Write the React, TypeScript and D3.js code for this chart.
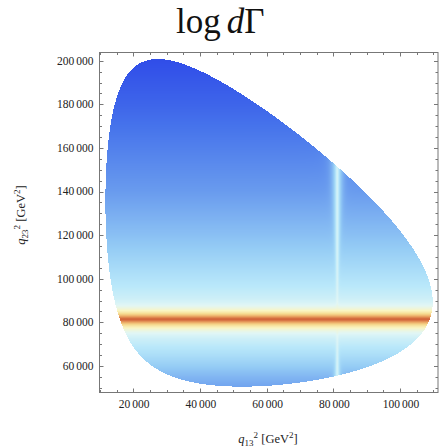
import React, { useEffect, useRef } from "react";
import * as d3 from "d3";

const W = 440;
const H = 448;
const FRAME = { left: 99.5, right: 438, top: 52.5, bottom: 392.5 };

// axis data
const xDomain = [9900, 111400];
const yDomain = [47800, 203800];
const xTicks = [20000, 40000, 60000, 80000, 100000];
const yTicks = [60000, 80000, 100000, 120000, 140000, 160000, 180000, 200000];
const xMinorTicks = d3.range(10000, 111000, 5000);
const yMinorTicks = d3.range(50000, 203000, 5000);

// Dalitz kinematics (parent mass, daughters 1,2,3) in GeV
const parentMass = [503.6];
const daughterMasses = [55.5, 172.2, 52.5];

// resonance bands: [centre, half width]
const bandY = [81400, 800];
const stripeX = [81200, 500];
const stripeLevel = [0.6];

// background colour level (0..1) versus q23^2
const profileY = [45000, 50000, 55000, 60000, 65000, 70000, 75000, 81400, 88000, 95000, 100000, 110000, 120000, 140000, 160000, 180000, 200000, 205000];
const profileT = [0.28, 0.32, 0.38, 0.45, 0.51, 0.56, 0.6, 0.62, 0.6, 0.56, 0.53, 0.47, 0.41, 0.3, 0.2, 0.1, 0.02, 0.0];

// colour map
const colorPos = [0, 0.15, 0.3, 0.45, 0.55, 0.63, 0.7, 0.78, 0.87, 1];
const colorHex = ["#2d48e8", "#4673eb", "#699bee", "#96cdf5", "#b9e8fa", "#e1f6f5", "#faf5c3", "#f6da90", "#eba864", "#d2643a"];

const FONT = "'Liberation Serif', 'Times New Roman', serif";

function splitLabel(v: number) {
  const hi = Math.floor(v / 1000);
  return [String(hi), "000"];
}

export default function App() {
  const imgRef = useRef<SVGImageElement>(null);
  const x = d3.scaleLinear().domain(xDomain).range([FRAME.left, FRAME.right]);
  const y = d3.scaleLinear().domain(yDomain).range([FRAME.bottom, FRAME.top]);
  const px0 = Math.ceil(FRAME.left);
  const px1 = Math.floor(FRAME.right);
  const py0 = Math.ceil(FRAME.top);
  const py1 = Math.floor(FRAME.bottom);

  useEffect(() => {
    const w = px1 - px0;
    const h = py1 - py0;
    const canvas = document.createElement("canvas");
    canvas.width = w;
    canvas.height = h;
    const ctx = canvas.getContext("2d");
    if (!ctx) return;
    const img = ctx.createImageData(w, h);
    const color = d3
      .scaleLinear<string>()
      .domain(colorPos)
      .range(colorHex)
      .interpolate(d3.interpolateRgb)
      .clamp(true);
    const LUT: d3.RGBColor[] = d3.range(1025).map((k) => d3.rgb(color(k / 1024)));
    const bg = d3.scaleLinear().domain(profileY).range(profileT).clamp(true);
    const M = parentMass[0];
    const [m1, m2, m3] = daughterMasses;
    const yMin = (m2 + m3) ** 2;
    const yMax = (M - m1) ** 2;
    const K = 25;
    const K1 = 10.9;
    for (let j = 0; j < h; j++) {
      const yv = y.invert(py0 + j + 0.5);
      if (yv < yMin || yv > yMax) continue;
      const sy = Math.sqrt(yv);
      const E3 = (yv - m2 * m2 + m3 * m3) / (2 * sy);
      const E1 = (M * M - yv - m1 * m1) / (2 * sy);
      const p3 = Math.sqrt(Math.max(0, E3 * E3 - m3 * m3));
      const p1 = Math.sqrt(Math.max(0, E1 * E1 - m1 * m1));
      const lo = (E3 + E1) ** 2 - (p3 + p1) ** 2;
      const hi = (E3 + E1) ** 2 - (p3 - p1) ** 2;
      const tb = bg(yv);
      const dyv = (yv - bandY[0]) / bandY[1];
      const tp = 1 - Math.log(1 + dyv * dyv) / K1 - ((yv - bandY[0]) / 60000) ** 2;
      for (let i = 0; i < w; i++) {
        const xv = x.invert(px0 + i + 0.5);
        if (xv < lo || xv > hi) continue;
        const dxv = (xv - stripeX[0]) / stripeX[1];
        const ts = stripeLevel[0] - Math.log(1 + dxv * dxv) / K1;
        const t = Math.log(Math.exp(K * tb) + Math.exp(K * tp) + Math.exp(K * ts)) / K;
        const c = LUT[Math.max(0, Math.min(1024, Math.round(t * 1024)))];
        const idx = (j * w + i) * 4;
        img.data[idx] = c.r;
        img.data[idx + 1] = c.g;
        img.data[idx + 2] = c.b;
        img.data[idx + 3] = 255;
      }
    }
    ctx.putImageData(img, 0, 0);
    if (imgRef.current) imgRef.current.setAttribute("href", canvas.toDataURL());
  }, []);

  const frameColor = "#777";
  const major = 4;
  const minor = 2.5;

  return (
    <div style={{ position: "absolute", left: 0, top: 0 }}>
      <svg width={W} height={H} viewBox={`0 0 ${W} ${H}`} style={{ display: "block", background: "#fff" }}>
        <image
          ref={imgRef}
          x={px0}
          y={py0}
          width={px1 - px0}
          height={py1 - py0}
          preserveAspectRatio="none"
          style={{ imageRendering: "pixelated" }}
        />
        {/* ticks */}
        <g stroke={frameColor} strokeWidth={1}>
          {xMinorTicks.map((v) => {
            const len = xTicks.includes(v) ? major : minor;
            const xx = Math.round(x(v)) + 0.5;
            return (
              <g key={"xm" + v}>
                <line x1={xx} x2={xx} y1={FRAME.bottom} y2={FRAME.bottom - len} />
                <line x1={xx} x2={xx} y1={FRAME.top} y2={FRAME.top + len} />
              </g>
            );
          })}
          {yMinorTicks.map((v) => {
            const len = yTicks.includes(v) ? major : minor;
            const yy = Math.round(y(v)) + 0.5;
            return (
              <g key={"ym" + v}>
                <line x1={FRAME.left} x2={FRAME.left + len} y1={yy} y2={yy} />
                <line x1={FRAME.right} x2={FRAME.right - len} y1={yy} y2={yy} />
              </g>
            );
          })}
          <rect
            x={FRAME.left}
            y={FRAME.top}
            width={FRAME.right - FRAME.left}
            height={FRAME.bottom - FRAME.top}
            fill="none"
          />
        </g>
        {/* tick labels */}
        <g fontFamily={FONT} fontSize={11.5} fill="#222">
          {yTicks.map((v) => {
            const [a, b] = splitLabel(v);
            return (
              <text key={"yl" + v} x={93.5} y={y(v) + 3.8} textAnchor="end">
                {a}
                <tspan dx={2}>{b}</tspan>
              </text>
            );
          })}
          {xTicks.map((v) => {
            const [a, b] = splitLabel(v);
            return (
              <text key={"xl" + v} x={x(v) + 1} y={408} textAnchor="middle">
                {a}
                <tspan dx={2}>{b}</tspan>
              </text>
            );
          })}
        </g>
        {/* axis labels */}
        <text x={268} y={443} textAnchor="middle" fontFamily={FONT} fontSize={12.5} fill="#222">
          <tspan fontStyle="italic">q</tspan>
          <tspan fontSize={9} dy={3}>13</tspan>
          <tspan fontSize={9} dy={-8}>2</tspan>
          <tspan dy={5}> [GeV</tspan>
          <tspan fontSize={9} dy={-5}>2</tspan>
          <tspan dy={5}>]</tspan>
        </text>
        <text
          transform="translate(25,215) rotate(-90)"
          textAnchor="middle"
          fontFamily={FONT}
          fontSize={12.5}
          fill="#222"
        >
          <tspan fontStyle="italic">q</tspan>
          <tspan fontSize={9} dy={3}>23</tspan>
          <tspan fontSize={9} dy={-8}>2</tspan>
          <tspan dy={5}> [GeV</tspan>
          <tspan fontSize={9} dy={-5}>2</tspan>
          <tspan dy={5}>]</tspan>
        </text>
        {/* title */}
        <text x={176} y={33} fontFamily={FONT} fontSize={35} fill="#111">
          log
          <tspan dx={6} fontStyle="italic">d</tspan>
          <tspan>Γ</tspan>
        </text>
      </svg>
    </div>
  );
}
